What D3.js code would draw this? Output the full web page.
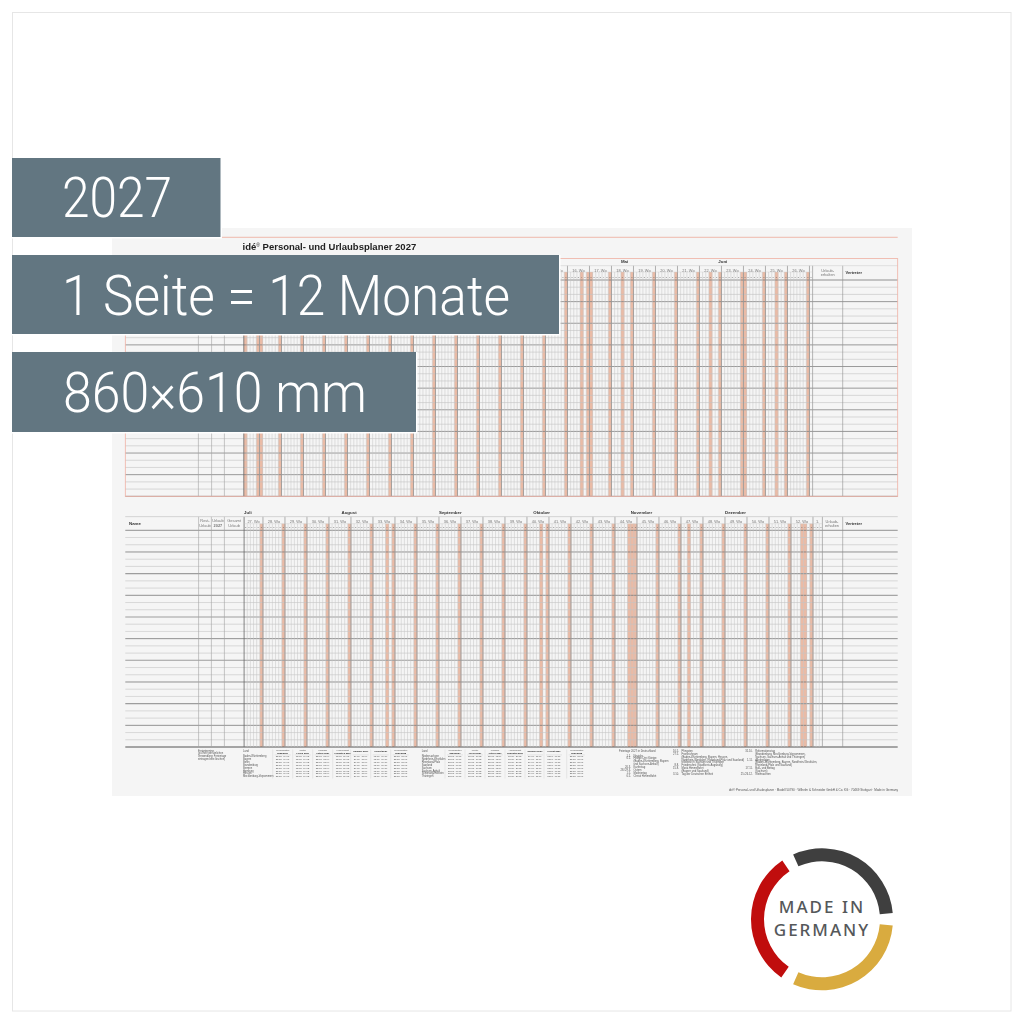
<!DOCTYPE html>
<html lang="de"><head><meta charset="utf-8">
<style>html,body{margin:0;padding:0;background:#fff}svg{display:block}</style>
<script src="https://cdn.jsdelivr.net/npm/d3@7/dist/d3.min.js"></script></head><body>
<svg id="c" width="1024" height="1024"></svg>
<script>
const titleParts = ["idé","®"," Personal- und Urlaubsplaner 2027"];
const monthsA = ["Januar","Februar","März","April","Mai","Juni"];
const monthStartA = [0,31,59,90,120,151];
const monthsB = ["Juli","August","September","Oktober","November","Dezember"];
const monthStartB = [0,31,62,92,123,153];
const sundaysA = [4,11,18,25,32,39,46,53,60,67,74,81,88,95,102,109,116,123,130,137,144,151,158,165,172,179];
const holidaysA = [0,5,107,110,120,148,159,169];
const weekLabelsA = ["1.","2. Wo","3. Wo","4. Wo","5. Wo","6. Wo","7. Wo","8. Wo","9. Wo","10. Wo","11. Wo","12. Wo","13. Wo","14. Wo","15. Wo","16. Wo","17. Wo","18. Wo","19. Wo","20. Wo","21. Wo","22. Wo","23. Wo","24. Wo","25. Wo","26. Wo"];
const sundaysB = [5,12,19,26,33,40,47,54,61,68,75,82,89,96,103,110,117,124,131,138,145,152,159,166,173,180];
const holidaysB = [45,94,122,123,141,177,178];
const weekLabelsB = ["27. Wo","28. Wo","29. Wo","30. Wo","31. Wo","32. Wo","33. Wo","34. Wo","35. Wo","36. Wo","37. Wo","38. Wo","39. Wo","40. Wo","41. Wo","42. Wo","43. Wo","44. Wo","45. Wo","46. Wo","47. Wo","48. Wo","49. Wo","50. Wo","51. Wo","52. Wo","1."];
const dayLetters = ["M","D","M","D","F","S","S"];
const banners = ["2027","1 Seite = 12 Monate","860×610 mm"];
const landsA = ["Baden-Württemberg","Bayern","Berlin","Brandenburg","Bremen","Hamburg","Hessen","Mecklenburg-Vorpommern"];
const landsB = ["Niedersachsen","Nordrhein-Westfalen","Rheinland-Pfalz","Saarland","Sachsen","Sachsen-Anhalt","Schleswig-Holstein","Thüringen"];
const ferienHeadTop = ["Weihnachten","Winter","Frühjahr","Himmelfahrt","","","Weihnachten"];
const ferienHeadBottom = ["2026/2027","Ferien 2027","Ostern 2027","Pfingsten 2027","Sommer 2027","Herbst 2027","2027/2028"];
const ferienDate = ["23.12.–09.01.","15.02.–19.02.","22.03.–03.04.","18.05.–29.05.","29.07.–11.09.","02.11.–06.11.","23.12.–08.01."];
const feiertage1 = [["1.1.","Neujahr"],["6.1.","Heilige Drei Könige"],["","(Baden-Württemberg, Bayern"],["","und Sachsen-Anhalt)"],["26.3.","Karfreitag"],["28./29.3.","Ostern"],["1.5.","Maifeiertag"],["6.5.","Christi Himmelfahrt"]];
const feiertage2 = [["16.5.","Pfingsten"],["27.5.","Fronleichnam"],["","(Baden-Württemberg, Bayern, Hessen,"],["","Nordrhein-Westfalen, Rheinland-Pfalz und Saarland)"],["","teilweise in Sachsen und Thüringen"],["8.8.","Friedensfest (Stadtkreis Augsburg)"],["15.8.","Mariä Himmelfahrt"],["","(Bayern und Saarland)"],["3.10.","Tag der Deutschen Einheit"]];
const feiertage3 = [["31.10.","Reformationstag"],["","(Brandenburg, Mecklenburg-Vorpommern,"],["","Sachsen, Sachsen-Anhalt und Thüringen)"],["1.11.","Allerheiligen"],["","(Baden-Württemberg, Bayern, Nordrhein-Westfalen,"],["","Rheinland-Pfalz und Saarland)"],["17.11.","Buß- und Bettag"],["","(Sachsen)"],["25./26.12.","Weihnachten"]];
const footerLine = "idé® Personal- und Urlaubsplaner · Modell 50790 · Wilhelm & Schneider GmbH & Co. KG · 70469 Stuttgart · Made in Germany";
const logoWords = ["MADE IN","GERMANY"];
const logoArcs = [[-24,85,"#3f3f3f"],[95,204,"#d9ab3f"],[215,326,"#c00d0d"]];

const svg = d3.select("#c");
const SANS = "'Liberation Sans',Arial,sans-serif";
svg.append("rect").attr("x",12.5).attr("y",12.5).attr("width",998.5).attr("height",998.5).attr("fill","#fff").attr("stroke","#e6e6e6");
const paper = svg.append("g").style("filter","blur(0.3px)");
paper.append("rect").attr("x",112).attr("y",228).attr("width",800).attr("height",568).attr("fill","#f5f5f5");
paper.append("line").attr("x1",222).attr("x2",897.7).attr("y1",237.3).attr("y2",237.3).attr("stroke","#eda99b").attr("stroke-width",.8);
const titleT = paper.append("text").attr("x",242.5).attr("y",250).attr("font-family",SANS).attr("font-weight",700).attr("font-size",9.5).attr("fill","#222");
titleT.append("tspan").text(titleParts[0]);
titleT.append("tspan").text(titleParts[1]).attr("font-size",5).attr("font-weight",400).attr("dy",-3);
titleT.append("tspan").text(titleParts[2]).attr("dy",3);

function T(g,s,x,y,o={}){return g.append("text").text(s).attr("x",x).attr("y",y).attr("font-family",SANS)
  .attr("font-size",o.size||4.4).attr("font-weight",o.bold?700:400).attr("fill",o.fill||"#555").attr("text-anchor",o.anchor||"start");}
function HL(g,x1,x2,y,c,w){g.append("line").attr("x1",x1).attr("x2",x2).attr("y1",y).attr("y2",y).attr("stroke",c).attr("stroke-width",w);}
function VL(g,x,y1,y2,c,w){g.append("line").attr("x1",x).attr("x2",x).attr("y1",y1).attr("y2",y2).attr("stroke",c).attr("stroke-width",w);}

function panel(p){
  const g = paper.append("g");
  const x = d3.scaleLinear().domain([0,p.days]).range(p.xr);
  const y = d3.scaleLinear().domain([0,30]).range(p.yr);
  const dw = x(1)-x(0);
  const marks = p.sundays.concat(p.holidays);
  g.selectAll("rect.b").data(marks).join("rect").attr("class","b").attr("x",d=>x(d)).attr("width",dw+.3)
    .attr("y",p.barTop).attr("height",p.yr[1]-p.barTop).attr("fill","#eabba6");
  d3.range(1,31).forEach(i=>{
    const k = p.rowStyle(i);
    HL(g,125.3,897.7,y(i),k[0],k[1]);
  });
  HL(g,125.3,897.7,p.yr[0],"#777",.8);
  d3.range(1,p.days).forEach(d=>{
    VL(g,x(d),p.barTop,p.yr[1],"#c4c4c4",.5);
  });
  const weekStarts = p.sundays.map(d=>d+1);
  weekStarts.forEach(d=>VL(g,x(d),p.headMid,p.yr[1],"#8f8f8f",.7));
  VL(g,x(0),p.headMid,p.yr[1],"#666",.8);
  VL(g,x(p.days),p.headMid,p.yr[1],"#999",.7);
  p.cols.forEach(c=>VL(g,c,p.headMid,p.yr[1],"#a3a3a3",.6));
  VL(g,842.7,p.headMid,p.yr[1],"#8f8f8f",.6);
  HL(g,125.3,897.7,p.headMid,"#c9c9c9",.5);
  HL(g,x(0),x(p.days),p.barTop,"#c9c9c9",.4);
  p.months.forEach((m,i)=>T(g,m,x(p.monthStart[i]),p.headMid-2.6,{bold:true,fill:"#333"}));
  const starts = [0].concat(weekStarts);
  p.weekLabels.forEach((w,i)=>{
    const a = starts[i], b = i+1<starts.length?starts[i+1]:p.days;
    if(b>a) T(g,w,(x(a)+x(b))/2,p.headMid+5.9,{anchor:"middle",fill:"#777",size:3.9});
  });
  d3.range(0,p.days).forEach(d=>{
    const wd = p.dayLetters[(d+p.dayOff)%7];
    T(g,wd,x(d)+dw/2,p.yr[0]-2.4,{anchor:"middle",size:1.9,fill:"#666"});
  });
  T(g,"Name",129,p.headMid+8,{bold:true,fill:"#333"});
  [["Rest-","Urlaub"],["Urlaub","2027"],["Gesamt","Urlaub"]].forEach((h,i)=>{
    const c=(p.cols[i]+[p.cols[1],p.cols[2],243.8][i])/2;
    T(g,h[0],c,p.headMid+5.6,{anchor:"middle",size:3.9,fill:"#777"});
    T(g,h[1],c,p.headMid+10.4,{anchor:"middle",size:3.9,fill:"#777",bold:i==1});
  });
  T(g,"Urlaub-",p.restC,p.headMid+6,{anchor:"middle",size:3.9,fill:"#777"});
  T(g,"erhalten",p.restC,p.headMid+10.6,{anchor:"middle",size:3.9,fill:"#777"});
  T(g,"Vertreter",845.5,p.headMid+8,{bold:true,fill:"#333",size:4});
  if(p.frame) g.append("rect").attr("x",125.3).attr("y",258.6).attr("width",772.4).attr("height",237.7).attr("fill","none").attr("stroke","#efb1a4").attr("stroke-width",.8);
  else HL(g,125.3,897.7,p.headTop,"#cfcfcf",.5);
}
const rowsA = i => i%3? ["#c2c2c2",.6] : (i%6==0?["#9a9a9a",1]:["#808080",.8]);
const rowsB = i => i%3? ["#c4c4c4",.6] : (i==30?["#555",1]:(i%6==0?["#9d9d9d",1.1]:["#777",.8]));
panel({days:181,xr:[243.8,812.6],yr:[280,496.3],barTop:272,headMid:265.7,cols:[198.4,211.6,224.4],months:monthsA,monthStart:monthStartA,
  sundays:sundaysA,holidays:holidaysA,weekLabels:weekLabelsA,dayLetters,dayOff:2,rowStyle:rowsA,frame:true,restC:827.7});
panel({days:184,xr:[244.1,822.4],yr:[530.3,747],barTop:523.7,headMid:516.6,headTop:516.6,cols:[198.6,211.4,224.4],months:monthsB,monthStart:monthStartB,
  sundays:sundaysB,holidays:holidaysB,weekLabels:weekLabelsB,dayLetters,dayOff:1,rowStyle:rowsB,frame:false,restC:832});

const fs=2.6;
const fg = paper.append("g");
["Ferientermine","(zu Ihrer persönlichen","Verwendung: Ferientage","eintragen bitte löschen)"].forEach((s,i)=>T(fg,s,198,751.5+i*2.9,{size:2.6}));
function ferien(xLand,lands,centers){
  T(fg,"Land",xLand,752,{size:fs});
  lands.forEach((l,i)=>T(fg,l,xLand,757.3+i*2.86,{size:fs}));
  centers.forEach((c,j)=>{
    VL(fg,c-10,749.5,778.5,"#cfcfcf",.4);
    if(ferienHeadTop[j]) T(fg,ferienHeadTop[j],c,751.2,{size:2.3,anchor:"middle"});
    T(fg,ferienHeadBottom[j],c,ferienHeadTop[j]?753.9:752.2,{size:2.3,anchor:"middle",bold:true,fill:"#222"});
    HL(fg,c-8,c+8,754.9,"#bbb",.3);
    lands.forEach(()=>{});
    lands.forEach((l,i)=>T(fg,ferienDate[j],c,757.3+i*2.86,{size:2.3,anchor:"middle"}));
  });
}
ferien(243,landsA,[282.7,302.7,322.7,342.7,360.7,380.7,400.7]);
ferien(421.7,landsB,[455,475,495,515,535,554,576.7]);
T(fg,"Feiertage 2027 in Deutschland",619,752,{size:2.7});
function feier(rows,xr,y0){rows.forEach((r,i)=>{
  if(r[0])T(fg,r[0],xr,y0+i*2.86,{size:2.7,anchor:"end"});
  T(fg,r[1],xr+2.5,y0+i*2.86,{size:2.7});});}
feier(feiertage1,631,756.5);feier(feiertage2,679,752);feier(feiertage3,752.7,752);
T(fg,footerLine,898,790.5,{size:3,anchor:"end"});

const bannerBox=[[12,158,208.5,79],[12,255,547,79],[12,352,404,80]];
const textFit=[[62,217,110],[62,315,448],[63,412,304]];
banners.forEach((b,i)=>{
  const r=bannerBox[i];
  svg.append("rect").attr("x",r[0]).attr("y",r[1]).attr("width",r[2]+1.5).attr("height",r[3]+1.5).attr("fill","#fff");
  svg.append("rect").attr("x",r[0]).attr("y",r[1]).attr("width",r[2]).attr("height",r[3]).attr("fill","#627681");
  svg.append("text").text(b).attr("x",textFit[i][0]).attr("y",textFit[i][1]).attr("font-family","Roboto,'Open Sans',sans-serif")
    .attr("font-weight",300).attr("font-size",56).attr("fill","#fff").attr("textLength",textFit[i][2]).attr("lengthAdjust","spacingAndGlyphs");
});

const logo = svg.append("g").attr("transform","translate(822,919.3)");
const arc = d3.arc().innerRadius(58).outerRadius(71);
logoArcs.forEach(a=>logo.append("path").attr("d",arc({startAngle:a[0]*Math.PI/180,endAngle:a[1]*Math.PI/180})).attr("fill",a[2]));
logoWords.forEach((w,i)=>logo.append("text").text(w).attr("x",0).attr("y",i?17:-6.5).attr("text-anchor","middle")
  .attr("font-family","'Noto Sans',Lato,sans-serif").attr("font-weight",500).attr("font-size",17).attr("fill","#55585a")
  .attr("letter-spacing",2));
</script></body></html>
